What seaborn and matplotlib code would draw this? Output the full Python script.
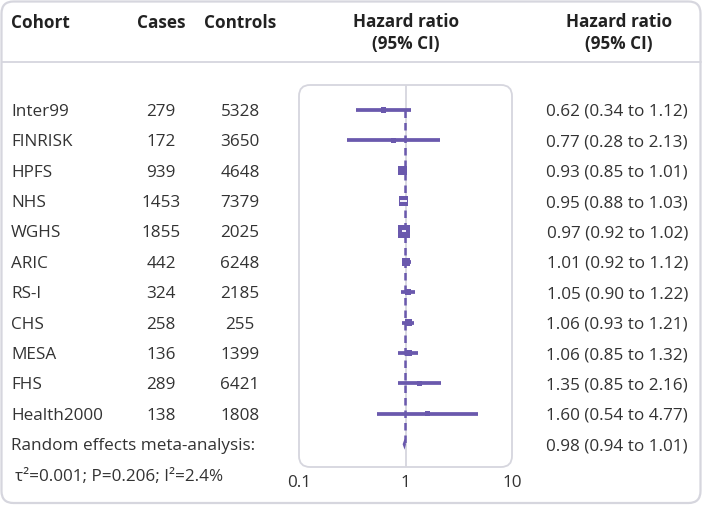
import numpy as np
import pandas as pd
import seaborn as sns
import matplotlib
matplotlib.use('Agg')
import matplotlib.pyplot as plt
from matplotlib.patches import FancyBboxPatch
from matplotlib.lines import Line2D
from matplotlib.ticker import NullLocator
from matplotlib.transforms import blended_transform_factory

## data ##

cohorts = ['Inter99', 'FINRISK', 'HPFS', 'NHS', 'WGHS', 'ARIC', 'RS-I', 'CHS',
           'MESA', 'FHS', 'Health2000']
cases = [279, 172, 939, 1453, 1855, 442, 324, 258, 136, 289, 138]
controls = [5328, 3650, 4648, 7379, 2025, 6248, 2185, 255, 1399, 6421, 1808]
hr = [0.62, 0.77, 0.93, 0.95, 0.97, 1.01, 1.05, 1.06, 1.06, 1.35, 1.60]
hr_lo = [0.34, 0.28, 0.85, 0.88, 0.92, 0.92, 0.90, 0.93, 0.85, 0.85, 0.54]
hr_hi = [1.12, 2.13, 1.01, 1.03, 1.02, 1.12, 1.22, 1.21, 1.32, 2.16, 4.77]
# study weight (%), estimated from the size of the squares
weight = [1.0, 0.5, 14, 15, 35, 9, 4, 6, 5, 0.8, 0.4]

meta_label = 'Random effects meta-analysis:'
meta_stats = '\u03c4\u00b2=0.001; P=0.206; I\u00b2=2.4%'
meta_hr, meta_lo, meta_hi = 0.98, 0.94, 1.01

xticks = [0.1, 1, 10]
xticklabels = ['0.1', '1', '10']

df = pd.DataFrame({'cohort': cohorts, 'cases': cases, 'controls': controls,
                   'hr': hr, 'lo': hr_lo, 'hi': hr_hi, 'weight': weight})
df['row'] = np.arange(len(df))
meta_row = len(df)

## style ##

sns.set_style('white')
plt.rcParams['font.family'] = ['Open Sans', 'DejaVu Sans']
purple = '#6a59ad'
grey = '#d6d6de'
ink = '#333333'
fs = 12.3

W, H = 702, 505
fig = plt.figure(figsize=(W / 100, H / 100), dpi=100)


def fx(px):
    return px / W


def fy(py):
    return 1 - py / H


# forest plot area
ax = fig.add_axes([fx(299), fy(467), (512 - 299) / W, (467 - 85) / H])

ax.axvline(1, color=grey, lw=1.3, zorder=1)
ax.vlines(meta_hr, 0, meta_row, color=purple, lw=1.8,
          linestyles=(0, (3, 2)), zorder=2)
ax.hlines(df['row'], df['lo'], df['hi'], color=purple, lw=2.7, zorder=3)

size_range = (14, 85)
sns.scatterplot(data=df, x='hr', y='row', size='weight', sizes=size_range,
                marker='s', color=purple, edgecolor='none', legend=False,
                ax=ax, zorder=4)

# white CI line inside the squares that are clearly wider than their interval
ax_px = 512 - 299
wmin, wmax = min(weight), max(weight)
for _, r in df.iterrows():
    area = size_range[0] + (r['weight'] - wmin) / (wmax - wmin) * (size_range[1] - size_range[0])
    side_px = np.sqrt(area) * 100 / 72
    ci_px = np.log10(r['hi'] / r['lo']) * ax_px / 2
    if ci_px < side_px - 1.2:
        ax.hlines(r['row'], r['lo'], r['hi'], color='white', lw=1.3, zorder=5)

# pooled estimate diamond
ax.fill([meta_lo, meta_hr, meta_hi, meta_hr],
        [meta_row, meta_row - 0.18, meta_row, meta_row + 0.18],
        color=purple, lw=0, zorder=5)

ax.set_xscale('log')
ax.set_xlim(0.1, 10)
ax.set_ylim(11.75, -0.82)
ax.set_xticks(xticks)
ax.set_xticklabels(xticklabels)
ax.xaxis.set_minor_locator(NullLocator())
ax.set_yticks([])
ax.set_xlabel('')
ax.set_ylabel('')
ax.tick_params(axis='x', length=0, pad=6, labelsize=fs, labelcolor=ink)
sns.despine(ax=ax, left=True, bottom=True)
ax.patch.set_alpha(0)

# boxes and header rule (pixel based so corners stay round)
px = fig.dpi_scale_trans
fig.add_artist(FancyBboxPatch((299 / 100, (H - 467) / 100), (512 - 299) / 100,
                              (467 - 85) / 100,
                              boxstyle='round,pad=0,rounding_size=0.11',
                              transform=px, fc='none', ec=grey, lw=1.3))
fig.add_artist(FancyBboxPatch((1.5 / 100, 2 / 100), (W - 3) / 100, (H - 3.5) / 100,
                              boxstyle='round,pad=0,rounding_size=0.12',
                              transform=px, fc='none', ec=grey, lw=1.6))
fig.add_artist(Line2D([fx(1.5), fx(W - 1.5)], [fy(62), fy(62)],
                      transform=fig.transFigure, color=grey, lw=1.3))

# header
hdr = dict(fontsize=fs, fontweight='bold', color='#222222', va='center')
fig.text(fx(11), fy(23), 'Cohort', ha='left', **hdr)
fig.text(fx(161), fy(23), 'Cases', ha='center', **hdr)
fig.text(fx(240), fy(23), 'Controls', ha='center', **hdr)
fig.text(fx(406), fy(33), 'Hazard ratio\n(95% CI)', ha='center',
         multialignment='center', linespacing=1.25, **hdr)
fig.text(fx(619), fy(33), 'Hazard ratio\n(95% CI)', ha='center',
         multialignment='center', linespacing=1.25, **hdr)

# table rows, tied to the forest rows
tr = blended_transform_factory(fig.transFigure, ax.transData)
body = dict(fontsize=fs, color=ink, va='center_baseline', transform=tr,
            clip_on=False)
for _, r in df.iterrows():
    ax.text(fx(11), r['row'], r['cohort'], ha='left', **body)
    ax.text(fx(161), r['row'], str(r['cases']), ha='center', **body)
    ax.text(fx(240), r['row'], str(r['controls']), ha='center', **body)
    ax.text(fx(688), r['row'],
            f"{r['hr']:.2f} ({r['lo']:.2f} to {r['hi']:.2f})", ha='right', **body)

ax.text(fx(11), meta_row, meta_label, ha='left', **body)
ax.text(fx(688), meta_row, f'{meta_hr:.2f} ({meta_lo:.2f} to {meta_hi:.2f})',
        ha='right', **body)
ax.text(fx(15), meta_row + 1, meta_stats, ha='left', **body)

fig.savefig('out.png', dpi=100)
